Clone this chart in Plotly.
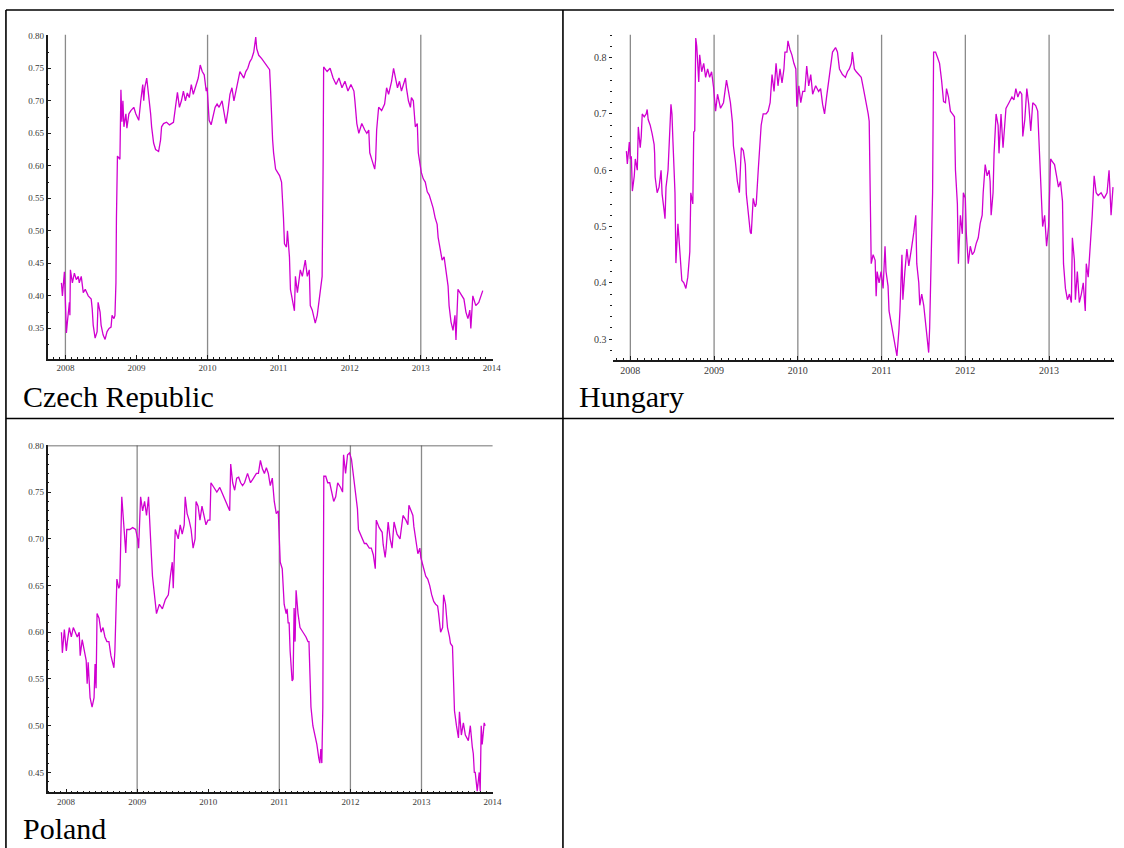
import plotly.graph_objects as go

W, H = 1124, 848

# ---------------- series: decimal year / value ----------------
cz_year = [2007.944, 2007.958, 2007.986, 2008.000, 2008.014, 2008.028, 2008.056, 2008.063, 2008.070, 2008.098,
           2008.126, 2008.153, 2008.181, 2008.195, 2008.223, 2008.251, 2008.279, 2008.321, 2008.363, 2008.377,
           2008.391, 2008.418, 2008.446, 2008.460, 2008.488, 2008.502, 2008.530, 2008.558, 2008.586, 2008.614,
           2008.642, 2008.656, 2008.683, 2008.697, 2008.711, 2008.718, 2008.725, 2008.732, 2008.767, 2008.781,
           2008.795, 2008.809, 2008.823, 2008.851, 2008.865, 2008.893, 2008.921, 2008.962, 2008.990, 2009.032,
           2009.060, 2009.088, 2009.102, 2009.116, 2009.144, 2009.172, 2009.199, 2009.213, 2009.241, 2009.269,
           2009.311, 2009.339, 2009.353, 2009.381, 2009.423, 2009.464, 2009.520, 2009.548, 2009.576, 2009.604,
           2009.632, 2009.660, 2009.688, 2009.715, 2009.743, 2009.771, 2009.799, 2009.827, 2009.855, 2009.869,
           2009.897, 2009.925, 2009.953, 2009.981, 2009.994, 2010.022, 2010.050, 2010.078, 2010.106, 2010.134,
           2010.162, 2010.204, 2010.232, 2010.259, 2010.287, 2010.315, 2010.343, 2010.371, 2010.399, 2010.427,
           2010.455, 2010.483, 2010.510, 2010.538, 2010.566, 2010.594, 2010.622, 2010.650, 2010.678, 2010.692,
           2010.720, 2010.762, 2010.803, 2010.845, 2010.873, 2010.887, 2010.901, 2010.915, 2010.929, 2010.957,
           2010.985, 2011.013, 2011.041, 2011.054, 2011.068, 2011.082, 2011.110, 2011.124, 2011.152, 2011.166,
           2011.194, 2011.222, 2011.236, 2011.264, 2011.305, 2011.333, 2011.375, 2011.403, 2011.431, 2011.445,
           2011.473, 2011.515, 2011.543, 2011.584, 2011.612, 2011.626, 2011.633, 2011.682, 2011.724, 2011.766,
           2011.808, 2011.849, 2011.891, 2011.933, 2011.975, 2012.017, 2012.059, 2012.073, 2012.100, 2012.128,
           2012.170, 2012.212, 2012.240, 2012.268, 2012.282, 2012.310, 2012.338, 2012.352, 2012.365, 2012.379,
           2012.407, 2012.449, 2012.491, 2012.519, 2012.547, 2012.589, 2012.617, 2012.644, 2012.672, 2012.700,
           2012.728, 2012.756, 2012.784, 2012.798, 2012.826, 2012.854, 2012.868, 2012.895, 2012.923, 2012.951,
           2012.965, 2012.993, 2013.007, 2013.035, 2013.063, 2013.091, 2013.119, 2013.147, 2013.174, 2013.202,
           2013.230, 2013.244, 2013.272, 2013.300, 2013.328, 2013.356, 2013.384, 2013.398, 2013.425, 2013.453,
           2013.481, 2013.495, 2013.523, 2013.551, 2013.579, 2013.607, 2013.635, 2013.663, 2013.690, 2013.704,
           2013.732, 2013.774, 2013.816, 2013.844, 2013.872]
cz_val = [0.42, 0.40, 0.437, 0.39, 0.343, 0.36, 0.39, 0.37, 0.44, 0.42,
          0.435, 0.425, 0.43, 0.42, 0.43, 0.405, 0.41, 0.40, 0.395, 0.38,
          0.355, 0.335, 0.345, 0.39, 0.375, 0.355, 0.34, 0.333, 0.345, 0.35,
          0.352, 0.37, 0.365, 0.37, 0.42, 0.52, 0.595, 0.615, 0.61, 0.717,
          0.668, 0.70, 0.66, 0.68, 0.658, 0.68, 0.685, 0.69, 0.68, 0.67,
          0.70, 0.725, 0.70, 0.72, 0.735, 0.71, 0.68, 0.66, 0.635, 0.625,
          0.622, 0.64, 0.66, 0.665, 0.667, 0.663, 0.667, 0.69, 0.713, 0.69,
          0.70, 0.715, 0.70, 0.712, 0.705, 0.725, 0.71, 0.72, 0.73, 0.735,
          0.755, 0.745, 0.74, 0.715, 0.72, 0.67, 0.663, 0.675, 0.69, 0.695,
          0.69, 0.70, 0.68, 0.665, 0.685, 0.71, 0.72, 0.70, 0.715, 0.73,
          0.745, 0.74, 0.735, 0.745, 0.75, 0.76, 0.765, 0.775, 0.798, 0.78,
          0.77, 0.765, 0.758, 0.752, 0.748, 0.715, 0.665, 0.64, 0.62, 0.595,
          0.59, 0.585, 0.575, 0.555, 0.52, 0.48, 0.475, 0.50, 0.46, 0.41,
          0.39, 0.377, 0.43, 0.405, 0.44, 0.43, 0.455, 0.43, 0.44, 0.385,
          0.378, 0.358, 0.37, 0.405, 0.43, 0.605, 0.752, 0.745, 0.75, 0.735,
          0.725, 0.735, 0.72, 0.73, 0.715, 0.725, 0.715, 0.70, 0.665, 0.65,
          0.665, 0.655, 0.65, 0.655, 0.62, 0.61, 0.60, 0.595, 0.61, 0.655,
          0.69, 0.685, 0.695, 0.72, 0.71, 0.73, 0.75, 0.735, 0.72, 0.73,
          0.715, 0.725, 0.735, 0.72, 0.70, 0.69, 0.705, 0.70, 0.66, 0.665,
          0.62, 0.60, 0.59, 0.58, 0.575, 0.56, 0.555, 0.545, 0.535, 0.52,
          0.51, 0.49, 0.475, 0.455, 0.46, 0.44, 0.415, 0.385, 0.36, 0.347,
          0.37, 0.332, 0.41, 0.405, 0.40, 0.395, 0.375, 0.365, 0.378, 0.35,
          0.40, 0.385, 0.39, 0.40, 0.408]

hu_year = [2007.953, 2007.964, 2007.988, 2008.000, 2008.012, 2008.024, 2008.047, 2008.059, 2008.083, 2008.095,
           2008.118, 2008.130, 2008.142, 2008.166, 2008.189, 2008.201, 2008.213, 2008.237, 2008.260, 2008.284,
           2008.290, 2008.296, 2008.320, 2008.343, 2008.367, 2008.379, 2008.402, 2008.414, 2008.426, 2008.450,
           2008.485, 2008.497, 2008.509, 2008.533, 2008.544, 2008.568, 2008.580, 2008.604, 2008.615, 2008.639,
           2008.663, 2008.686, 2008.698, 2008.710, 2008.722, 2008.746, 2008.757, 2008.769, 2008.781, 2008.793,
           2008.817, 2008.828, 2008.852, 2008.876, 2008.899, 2008.923, 2008.947, 2008.970, 2008.994, 2009.018,
           2009.041, 2009.077, 2009.112, 2009.148, 2009.172, 2009.195, 2009.219, 2009.231, 2009.254, 2009.278,
           2009.302, 2009.325, 2009.349, 2009.373, 2009.385, 2009.408, 2009.432, 2009.444, 2009.467, 2009.491,
           2009.503, 2009.527, 2009.550, 2009.562, 2009.586, 2009.621, 2009.645, 2009.669, 2009.692, 2009.716,
           2009.740, 2009.763, 2009.787, 2009.811, 2009.834, 2009.846, 2009.870, 2009.882, 2009.905, 2009.929,
           2009.953, 2009.976, 2009.988, 2010.012, 2010.035, 2010.059, 2010.083, 2010.106, 2010.130, 2010.154,
           2010.177, 2010.213, 2010.248, 2010.272, 2010.296, 2010.319, 2010.343, 2010.367, 2010.391, 2010.414,
           2010.450, 2010.473, 2010.497, 2010.533, 2010.568, 2010.592, 2010.615, 2010.639, 2010.651, 2010.675,
           2010.698, 2010.722, 2010.757, 2010.781, 2010.805, 2010.828, 2010.840, 2010.852, 2010.864, 2010.876,
           2010.899, 2010.923, 2010.935, 2010.947, 2010.970, 2010.994, 2011.018, 2011.030, 2011.041, 2011.053,
           2011.077, 2011.089, 2011.112, 2011.148, 2011.183, 2011.207, 2011.219, 2011.243, 2011.254, 2011.278,
           2011.302, 2011.325, 2011.349, 2011.361, 2011.385, 2011.408, 2011.420, 2011.444, 2011.456, 2011.479,
           2011.503, 2011.527, 2011.550, 2011.562, 2011.574, 2011.586, 2011.609, 2011.621, 2011.645, 2011.669,
           2011.692, 2011.716, 2011.740, 2011.763, 2011.775, 2011.799, 2011.822, 2011.846, 2011.870, 2011.882,
           2011.905, 2011.917, 2011.941, 2011.964, 2011.976, 2012.000, 2012.012, 2012.035, 2012.059, 2012.083,
           2012.106, 2012.130, 2012.154, 2012.177, 2012.201, 2012.213, 2012.237, 2012.260, 2012.284, 2012.296,
           2012.308, 2012.331, 2012.343, 2012.367, 2012.391, 2012.402, 2012.426, 2012.450, 2012.485, 2012.521,
           2012.556, 2012.580, 2012.603, 2012.627, 2012.651, 2012.674, 2012.686, 2012.710, 2012.734, 2012.757,
           2012.781, 2012.805, 2012.840, 2012.864, 2012.887, 2012.899, 2012.923, 2012.947, 2012.970, 2012.994,
           2013.006, 2013.018, 2013.041, 2013.065, 2013.089, 2013.112, 2013.136, 2013.160, 2013.172, 2013.195,
           2013.219, 2013.243, 2013.266, 2013.278, 2013.302, 2013.314, 2013.337, 2013.361, 2013.385, 2013.408,
           2013.432, 2013.444, 2013.467, 2013.491, 2013.515, 2013.538, 2013.562, 2013.586, 2013.621, 2013.657,
           2013.692, 2013.716, 2013.740, 2013.763]
hu_val = [0.634, 0.611, 0.65, 0.62, 0.625, 0.563, 0.59, 0.62, 0.60, 0.677,
          0.64, 0.66, 0.70, 0.695, 0.70, 0.708, 0.69, 0.68, 0.665, 0.646,
          0.63, 0.588, 0.56, 0.57, 0.60, 0.558, 0.53, 0.514, 0.57, 0.60,
          0.717, 0.70, 0.65, 0.56, 0.435, 0.505, 0.48, 0.434, 0.404, 0.40,
          0.39, 0.41, 0.43, 0.455, 0.56, 0.54, 0.668, 0.67, 0.835, 0.82,
          0.757, 0.805, 0.775, 0.79, 0.765, 0.78, 0.765, 0.775, 0.747, 0.705,
          0.735, 0.71, 0.72, 0.76, 0.74, 0.72, 0.685, 0.643, 0.616, 0.58,
          0.56, 0.64, 0.635, 0.61, 0.558, 0.52, 0.49, 0.487, 0.55, 0.535,
          0.54, 0.60, 0.65, 0.68, 0.70, 0.70, 0.705, 0.72, 0.77, 0.74,
          0.79, 0.75, 0.78, 0.755, 0.78, 0.81, 0.81, 0.83, 0.815, 0.805,
          0.79, 0.78, 0.713, 0.75, 0.72, 0.74, 0.74, 0.785, 0.75, 0.77,
          0.735, 0.75, 0.74, 0.745, 0.717, 0.70, 0.73, 0.76, 0.785, 0.81,
          0.818, 0.81, 0.78, 0.77, 0.765, 0.775, 0.78, 0.79, 0.81, 0.78,
          0.775, 0.77, 0.765, 0.747, 0.73, 0.71, 0.70, 0.687, 0.54, 0.434,
          0.45, 0.44, 0.376, 0.42, 0.40, 0.42, 0.39, 0.43, 0.465, 0.42,
          0.394, 0.35, 0.33, 0.30, 0.27, 0.316, 0.35, 0.45, 0.37, 0.42,
          0.46, 0.43, 0.45, 0.465, 0.49, 0.52, 0.434, 0.40, 0.36, 0.38,
          0.36, 0.32, 0.29, 0.276, 0.32, 0.43, 0.56, 0.81, 0.81, 0.80,
          0.79, 0.76, 0.722, 0.72, 0.745, 0.73, 0.705, 0.70, 0.695, 0.60,
          0.54, 0.434, 0.52, 0.487, 0.56, 0.55, 0.487, 0.434, 0.465, 0.45,
          0.455, 0.47, 0.48, 0.505, 0.52, 0.56, 0.61, 0.59, 0.60, 0.58,
          0.52, 0.56, 0.63, 0.70, 0.68, 0.63, 0.70, 0.64, 0.71, 0.72,
          0.73, 0.725, 0.745, 0.73, 0.74, 0.735, 0.66, 0.69, 0.745, 0.717,
          0.67, 0.72, 0.715, 0.705, 0.63, 0.567, 0.50, 0.52, 0.465, 0.50,
          0.56, 0.62, 0.615, 0.61, 0.59, 0.57, 0.58, 0.545, 0.434, 0.39,
          0.37, 0.38, 0.365, 0.48, 0.44, 0.37, 0.42, 0.365, 0.38, 0.40,
          0.35, 0.434, 0.41, 0.46, 0.52, 0.59, 0.56, 0.555, 0.56, 0.55,
          0.56, 0.60, 0.52, 0.57]

pl_year = [2007.935, 2007.948, 2007.976, 2008.004, 2008.018, 2008.046, 2008.074, 2008.102, 2008.130, 2008.157,
           2008.185, 2008.199, 2008.227, 2008.255, 2008.283, 2008.297, 2008.311, 2008.338, 2008.366, 2008.394,
           2008.408, 2008.422, 2008.436, 2008.464, 2008.492, 2008.520, 2008.547, 2008.575, 2008.603, 2008.631,
           2008.659, 2008.673, 2008.687, 2008.701, 2008.715, 2008.742, 2008.756, 2008.770, 2008.784, 2008.798,
           2008.826, 2008.840, 2008.854, 2008.896, 2008.937, 2008.979, 2009.007, 2009.021, 2009.049, 2009.077,
           2009.105, 2009.132, 2009.160, 2009.188, 2009.202, 2009.216, 2009.244, 2009.272, 2009.313, 2009.355,
           2009.397, 2009.439, 2009.467, 2009.494, 2009.508, 2009.536, 2009.578, 2009.606, 2009.634, 2009.662,
           2009.676, 2009.703, 2009.731, 2009.759, 2009.787, 2009.815, 2009.829, 2009.857, 2009.884, 2009.912,
           2009.940, 2009.968, 2009.996, 2010.024, 2010.038, 2010.079, 2010.121, 2010.163, 2010.191, 2010.219,
           2010.247, 2010.274, 2010.302, 2010.316, 2010.344, 2010.372, 2010.400, 2010.428, 2010.456, 2010.483,
           2010.511, 2010.553, 2010.595, 2010.637, 2010.678, 2010.706, 2010.734, 2010.762, 2010.790, 2010.818,
           2010.845, 2010.873, 2010.901, 2010.929, 2010.957, 2010.985, 2010.999, 2011.013, 2011.041, 2011.054,
           2011.068, 2011.096, 2011.110, 2011.124, 2011.138, 2011.152, 2011.166, 2011.180, 2011.194, 2011.208,
           2011.222, 2011.236, 2011.263, 2011.277, 2011.291, 2011.333, 2011.375, 2011.403, 2011.417, 2011.431,
           2011.445, 2011.472, 2011.500, 2011.528, 2011.556, 2011.570, 2011.584, 2011.598, 2011.612, 2011.626,
           2011.653, 2011.681, 2011.709, 2011.737, 2011.765, 2011.793, 2011.821, 2011.862, 2011.890, 2011.904,
           2011.932, 2011.960, 2011.988, 2012.015, 2012.029, 2012.057, 2012.071, 2012.099, 2012.113, 2012.141,
           2012.169, 2012.197, 2012.224, 2012.266, 2012.294, 2012.322, 2012.350, 2012.364, 2012.405, 2012.447,
           2012.461, 2012.489, 2012.503, 2012.531, 2012.559, 2012.586, 2012.614, 2012.656, 2012.698, 2012.740,
           2012.781, 2012.809, 2012.823, 2012.851, 2012.879, 2012.893, 2012.921, 2012.949, 2012.977, 2012.991,
           2013.018, 2013.060, 2013.088, 2013.116, 2013.144, 2013.172, 2013.199, 2013.227, 2013.241, 2013.269,
           2013.297, 2013.311, 2013.338, 2013.366, 2013.394, 2013.408, 2013.436, 2013.450, 2013.464, 2013.492,
           2013.520, 2013.534, 2013.561, 2013.589, 2013.617, 2013.659, 2013.687, 2013.715, 2013.729, 2013.743,
           2013.756, 2013.784, 2013.812, 2013.826, 2013.840, 2013.854, 2013.882, 2013.896]
pl_val = [0.60, 0.578, 0.603, 0.58, 0.59, 0.605, 0.595, 0.605, 0.60, 0.595,
          0.60, 0.575, 0.592, 0.58, 0.57, 0.545, 0.568, 0.53, 0.52, 0.53,
          0.566, 0.54, 0.62, 0.615, 0.60, 0.605, 0.595, 0.59, 0.59, 0.575,
          0.565, 0.562, 0.58, 0.614, 0.657, 0.647, 0.65, 0.70, 0.745, 0.73,
          0.697, 0.685, 0.71, 0.71, 0.712, 0.71, 0.70, 0.69, 0.745, 0.73,
          0.74, 0.725, 0.745, 0.71, 0.68, 0.66, 0.64, 0.62, 0.63, 0.625,
          0.635, 0.64, 0.66, 0.675, 0.647, 0.71, 0.70, 0.715, 0.705, 0.715,
          0.745, 0.727, 0.72, 0.71, 0.69, 0.70, 0.74, 0.735, 0.72, 0.735,
          0.725, 0.715, 0.72, 0.72, 0.76, 0.755, 0.75, 0.755, 0.75, 0.745,
          0.74, 0.737, 0.73, 0.78, 0.76, 0.752, 0.765, 0.766, 0.76, 0.757,
          0.76, 0.77, 0.76, 0.765, 0.77, 0.77, 0.784, 0.775, 0.77, 0.776,
          0.77, 0.757, 0.765, 0.74, 0.727, 0.73, 0.704, 0.675, 0.668, 0.65,
          0.63, 0.62, 0.625, 0.61, 0.61, 0.58, 0.562, 0.548, 0.55, 0.626,
          0.59, 0.645, 0.62, 0.61, 0.605, 0.60, 0.595, 0.59, 0.59, 0.555,
          0.52, 0.50, 0.49, 0.48, 0.465, 0.46, 0.475, 0.46, 0.52, 0.767,
          0.767, 0.76, 0.76, 0.75, 0.74, 0.745, 0.76, 0.755, 0.75, 0.79,
          0.77, 0.79, 0.792, 0.785, 0.775, 0.76, 0.748, 0.732, 0.71, 0.705,
          0.70, 0.695, 0.695, 0.69, 0.69, 0.683, 0.668, 0.72, 0.712, 0.707,
          0.694, 0.68, 0.69, 0.718, 0.70, 0.69, 0.718, 0.705, 0.70, 0.725,
          0.72, 0.715, 0.736, 0.73, 0.725, 0.713, 0.70, 0.684, 0.69, 0.68,
          0.672, 0.66, 0.657, 0.65, 0.64, 0.633, 0.63, 0.628, 0.62, 0.60,
          0.605, 0.64, 0.63, 0.605, 0.595, 0.588, 0.585, 0.54, 0.516, 0.50,
          0.487, 0.515, 0.49, 0.503, 0.49, 0.484, 0.50, 0.477, 0.47, 0.45,
          0.45, 0.43, 0.45, 0.43, 0.50, 0.48, 0.503, 0.50]

# tick values / labels
year_ticks = [2008, 2009, 2010, 2011, 2012, 2013, 2014]
year_labels = ["2008", "2009", "2010", "2011", "2012", "2013", "2014"]
cz_yticks = [0.35, 0.40, 0.45, 0.50, 0.55, 0.60, 0.65, 0.70, 0.75, 0.80]
hu_yticks = [0.3, 0.4, 0.5, 0.6, 0.7, 0.8]
pl_yticks = [0.45, 0.50, 0.55, 0.60, 0.65, 0.70, 0.75, 0.80]

# year markers drawn as vertical rules
cz_marks = [2008, 2010, 2013]
hu_marks = [2008, 2009, 2010, 2011, 2012, 2013]
pl_marks = [2009, 2011, 2012, 2013]

labels = ["Czech Republic", "Hungary", "Poland"]

LINE = "#D000D0"
RULE = "#8a8a8a"
AX = "#1a1a1a"
TXT = "#3a3a3a"
SERIF = "Liberation Serif, Times New Roman, serif"


def fx(p):
    return p / W


def fy(p):
    return 1 - p / H


fig = go.Figure()
fig.add_trace(go.Scatter(x=cz_year, y=cz_val, mode="lines", xaxis="x", yaxis="y",
                         line=dict(color=LINE, width=1.3), showlegend=False))
fig.add_trace(go.Scatter(x=hu_year, y=hu_val, mode="lines", xaxis="x2", yaxis="y2",
                         line=dict(color=LINE, width=1.3), showlegend=False))
fig.add_trace(go.Scatter(x=pl_year, y=pl_val, mode="lines", xaxis="x3", yaxis="y3",
                         line=dict(color=LINE, width=1.3), showlegend=False))


def xax(domain, rng, anchor, size):
    return dict(domain=domain, range=rng, anchor=anchor, tickmode="array",
                tickvals=year_ticks, ticktext=year_labels, ticks="inside", ticklen=4,
                tickcolor=AX, tickwidth=1, showline=True, linecolor=AX, linewidth=1.5,
                showgrid=False, zeroline=False,
                tickfont=dict(family=SERIF, size=size, color=TXT),
                minor=dict(ticks="inside", ticklen=2, tickcolor=AX, dtick=1 / 12, tick0=2008,
                           showgrid=False))


def yax(domain, rng, anchor, ticks, fmt, minor_step, size, line=True):
    return dict(domain=domain, range=rng, anchor=anchor, tickmode="array",
                tickvals=ticks, ticktext=[format(t, fmt) for t in ticks],
                ticks="inside" if line else "outside", ticklen=4 if line else 3,
                tickcolor=AX, tickwidth=1, showline=line, linecolor=AX, linewidth=1.5,
                showgrid=False, zeroline=False,
                tickfont=dict(family=SERIF, size=size, color=TXT),
                minor=dict(ticks="inside" if line else "outside", ticklen=2, tickcolor=AX,
                           dtick=minor_step, tick0=0, showgrid=False))


fig.update_layout(
    width=W, height=H, margin=dict(l=0, r=0, t=0, b=0),
    paper_bgcolor="white", plot_bgcolor="white", showlegend=False,
    xaxis=xax([fx(48), fx(497)], [2007.749, 2014.01], "y", 9),
    yaxis=yax([fy(356), fy(30)], [0.303, 0.8015], "x", cz_yticks, ".2f", 0.025, 9),
    xaxis2=xax([fx(618), 1.0], [2007.787, 2013.775], "y2", 10),
    yaxis2=yax([fy(357), fy(30)], [0.263, 0.8406], "x2", hu_yticks, ".1f", 0.02, 10, line=False),
    xaxis3=xax([fx(48), fx(497)], [2007.74, 2014.0], "y3", 9),
    yaxis3=yax([fy(792), fy(443)], [0.4287, 0.80], "x3", pl_yticks, ".2f", 0.01, 9),
)

shapes = []
for yr in cz_marks:
    shapes.append(dict(type="line", xref="x", yref="y domain", x0=yr, x1=yr, y0=0, y1=1,
                       line=dict(color=RULE, width=1.3), layer="below"))
for yr in hu_marks:
    shapes.append(dict(type="line", xref="x2", yref="y2 domain", x0=yr, x1=yr, y0=0, y1=1,
                       line=dict(color=RULE, width=1.3), layer="below"))
for yr in pl_marks:
    shapes.append(dict(type="line", xref="x3", yref="y3 domain", x0=yr, x1=yr, y0=0, y1=1,
                       line=dict(color=RULE, width=1.3), layer="below"))
# frame line along the top of the Poland panel
shapes.append(dict(type="line", xref="x3 domain", yref="y3", x0=0, x1=1, y0=0.80, y1=0.80,
                   line=dict(color="#444444", width=1.5)))

# table borders
BORDER = dict(color="black", width=1.6)
shapes += [
    dict(type="line", xref="paper", yref="paper", x0=fx(6), x1=1, y0=fy(5), y1=fy(5), line=BORDER),
    dict(type="line", xref="paper", yref="paper", x0=fx(6), x1=1, y0=fy(416), y1=fy(416), line=BORDER),
    dict(type="line", xref="paper", yref="paper", x0=fx(6), x1=fx(6), y0=0, y1=fy(5), line=BORDER),
    dict(type="line", xref="paper", yref="paper", x0=fx(568), x1=fx(568), y0=0, y1=fy(5), line=BORDER),
]
fig.update_layout(shapes=shapes)

# cell captions: (x px, y px, vertical anchor)
label_pos = [(21, 394, "middle"), (582, 394, "middle"), (21, 847, "bottom")]
for text, (px, py, anchor) in zip(labels, label_pos):
    fig.add_annotation(x=fx(px), y=fy(py), xref="paper", yref="paper", text=text,
                       showarrow=False, xanchor="left", yanchor=anchor,
                       font=dict(family=SERIF, size=30, color="black"))

fig.write_html("out.html")
